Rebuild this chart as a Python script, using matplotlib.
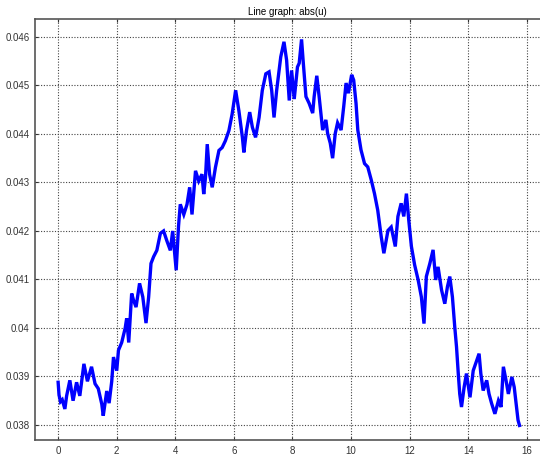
import matplotlib.pyplot as plt

# abs(u) sampled along the domain
t = [0.00, 0.03, 0.08, 0.14, 0.23, 0.29, 0.40, 0.51, 0.63, 0.74,
     0.88, 1.00, 1.14, 1.26, 1.37, 1.49, 1.54, 1.66, 1.74, 1.83,
     1.89, 2.00, 2.06, 2.17, 2.29, 2.34, 2.41, 2.51, 2.57, 2.66,
     2.78, 2.89, 3.00, 3.09, 3.17, 3.26, 3.37, 3.49, 3.60, 3.71,
     3.83, 3.91, 4.03, 4.11, 4.17, 4.29, 4.40, 4.49, 4.57, 4.69,
     4.80, 4.91, 4.97, 5.03, 5.09, 5.17, 5.26, 5.37, 5.49, 5.60,
     5.71, 5.83, 5.94, 6.06, 6.17, 6.29, 6.34, 6.43, 6.54, 6.63,
     6.74, 6.86, 6.97, 7.09, 7.20, 7.29, 7.37, 7.46, 7.60, 7.71,
     7.80, 7.89, 7.97, 8.06, 8.17, 8.23, 8.31, 8.37, 8.46, 8.57,
     8.69, 8.74, 8.83, 8.91, 9.03, 9.14, 9.20, 9.29, 9.37, 9.46,
     9.54, 9.66, 9.75, 9.83, 9.91, 10.02, 10.09, 10.17, 10.23, 10.34,
     10.46, 10.57, 10.69, 10.80, 10.91, 11.03, 11.12, 11.26, 11.37, 11.51,
     11.60, 11.71, 11.80, 11.89, 11.97, 12.06, 12.17, 12.29, 12.40, 12.49,
     12.57, 12.69, 12.80, 12.89, 12.97, 13.09, 13.20, 13.29, 13.37, 13.46,
     13.54, 13.60, 13.66, 13.71, 13.77, 13.86, 13.94, 14.06, 14.17, 14.29,
     14.37, 14.43, 14.51, 14.63, 14.71, 14.80, 14.91, 15.03, 15.12, 15.20,
     15.29, 15.37, 15.49, 15.57, 15.66, 15.70, 15.75]

u = [0.03888, 0.03862, 0.03848, 0.03852, 0.03833, 0.03860, 0.03892, 0.03850, 0.03888, 0.03860,
     0.03926, 0.03890, 0.03920, 0.03885, 0.03875, 0.03843, 0.03819, 0.03870, 0.03845, 0.03890,
     0.03940, 0.03912, 0.03954, 0.03970, 0.04000, 0.04020, 0.03970, 0.04071, 0.04058, 0.04043,
     0.04092, 0.04064, 0.04010, 0.04064, 0.04133, 0.04147, 0.04160, 0.04195, 0.04200, 0.04180,
     0.04160, 0.04200, 0.04119, 0.04210, 0.04255, 0.04234, 0.04255, 0.04290, 0.04234, 0.04324,
     0.04303, 0.04317, 0.04276, 0.04310, 0.04379, 0.04317, 0.04290, 0.04331, 0.04366, 0.04372,
     0.04386, 0.04407, 0.04441, 0.04490, 0.04448, 0.04393, 0.04362, 0.04407, 0.04445, 0.04414,
     0.04393, 0.04434, 0.04490, 0.04524, 0.04528, 0.04490, 0.04434, 0.04490, 0.04559, 0.04590,
     0.04552, 0.04469, 0.04531, 0.04472, 0.04538, 0.04546, 0.04595, 0.04546, 0.04477, 0.04463,
     0.04443, 0.04477, 0.04520, 0.04477, 0.04408, 0.04429, 0.04401, 0.04381, 0.04350, 0.04401,
     0.04423, 0.04408, 0.04457, 0.04505, 0.04484, 0.04522, 0.04511, 0.04463, 0.04408, 0.04367,
     0.04339, 0.04332, 0.04305, 0.04277, 0.04243, 0.04188, 0.04154, 0.04201, 0.04208, 0.04168,
     0.04230, 0.04257, 0.04230, 0.04277, 0.04222, 0.04168, 0.04130, 0.04099, 0.04064, 0.04009,
     0.04106, 0.04133, 0.04161, 0.04099, 0.04126, 0.04078, 0.04050, 0.04085, 0.04106, 0.04064,
     0.04002, 0.03961, 0.03906, 0.03864, 0.03837, 0.03878, 0.03906, 0.03857, 0.03912, 0.03933,
     0.03947, 0.03906, 0.03871, 0.03892, 0.03864, 0.03844, 0.03823, 0.03850, 0.03837, 0.03920,
     0.03892, 0.03864, 0.03899, 0.03878, 0.03830, 0.03810, 0.03799]

xticks = [0, 2, 4, 6, 8, 10, 12, 14, 16]
yticks = [0.038, 0.039, 0.040, 0.041, 0.042, 0.043, 0.044, 0.045, 0.046]
ylabels = ["0.038", "0.039", "0.04", "0.041", "0.042", "0.043", "0.044", "0.045", "0.046"]

plt.rcParams["font.family"] = ["Liberation Sans", "DejaVu Sans"]

fig = plt.figure(figsize=(5.4, 4.57), dpi=100)
ax = fig.add_axes([0.0648, 0.0372, 0.9352, 0.9212])

ax.plot(t, u, color="#0000ff", linewidth=2.4, solid_joinstyle="miter")

ax.set_xlim(-0.79, 16.45)
ax.set_ylim(0.03769, 0.04637)
ax.set_xticks(xticks)
ax.set_yticks(yticks)
ax.set_yticklabels(ylabels)
ax.tick_params(labelsize=7, length=2, direction="in", colors="#333333",
               top=True, pad=4)
ax.grid(True, linestyle=(0, (1, 1.5)), color="#444444", linewidth=0.8)

for side in ["left", "top", "bottom"]:
    ax.spines[side].set_color("#555555")
    ax.spines[side].set_linewidth(1.2)
ax.spines["right"].set_visible(False)

ax.set_title("Line graph: abs(u)", fontsize=7, pad=3)

fig.savefig("out.png", dpi=100)
